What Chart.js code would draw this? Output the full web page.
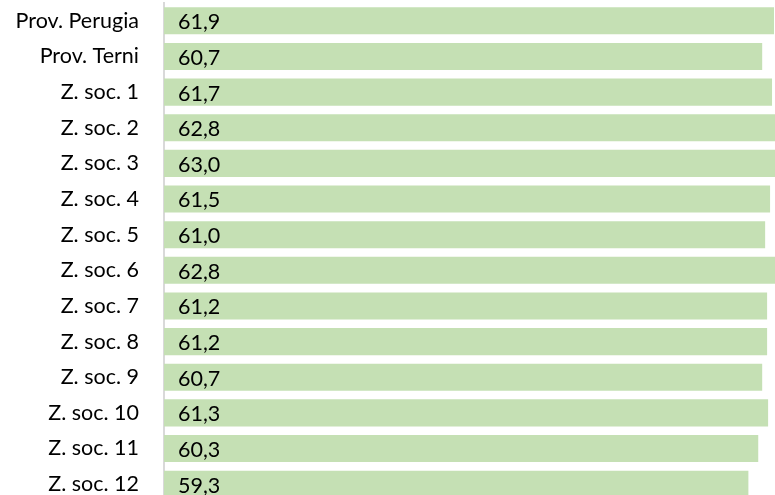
<!DOCTYPE html>
<html>
<head>
<meta charset="utf-8">
<script src="https://cdn.jsdelivr.net/npm/chart.js@4"></script>
<style>
  html, body { margin: 0; padding: 0; background: #fff; overflow: hidden; }
  #wrap { position: relative; width: 775px; height: 502px; }
</style>
</head>
<body>
<div id="wrap"><canvas id="chart"></canvas></div>
<script>
// Categories and values
const zones = ['Prov. Perugia', 'Prov. Terni', 'Z. soc. 1', 'Z. soc. 2', 'Z. soc. 3', 'Z. soc. 4', 'Z. soc. 5',
  'Z. soc. 6', 'Z. soc. 7', 'Z. soc. 8', 'Z. soc. 9', 'Z. soc. 10', 'Z. soc. 11', 'Z. soc. 12'];
const values = [61.9, 60.7, 61.7, 62.8, 63.0, 61.5, 61.0, 62.8, 61.2, 61.2, 60.7, 61.3, 60.3, 59.3];

const FONT = 'Lato';
const FONT_SIZE = 21.5;

// Write the value inside each bar, near its base
const barValues = {
  id: 'barValues',
  afterDatasetsDraw(chart) {
    const ctx = chart.ctx;
    const meta = chart.getDatasetMeta(0);
    ctx.save();
    ctx.font = FONT_SIZE + 'px ' + FONT;
    ctx.fillStyle = '#000';
    ctx.textAlign = 'left';
    ctx.textBaseline = 'middle';
    meta.data.forEach((bar, i) => {
      const txt = values[i].toFixed(1).replace('.', ',');
      ctx.fillText(txt, bar.base + 14, bar.y + 1.5);
    });
    ctx.restore();
  }
};

new Chart(document.getElementById('chart'), {
  type: 'bar',
  data: {
    labels: zones,
    datasets: [{
      data: values,
      backgroundColor: '#c5e0b4',
      borderWidth: 0,
      categoryPercentage: 1,
      barPercentage: 0.76
    }]
  },
  options: {
    indexAxis: 'y',
    responsive: true,
    maintainAspectRatio: false,
    animation: false,
    layout: { padding: { top: 3, right: 0, bottom: 0, left: 0 } },
    plugins: {
      legend: { display: false },
      tooltip: { enabled: false }
    },
    scales: {
      x: {
        display: false,
        min: 0,
        max: 62.0
      },
      y: {
        afterFit(scale) {
          // fixed axis width, no extra room above/below the bars
          scale.width = 164;
          scale.paddingTop = 0;
          scale.paddingBottom = 0;
        },
        grid: { display: false, drawTicks: false },
        border: { display: true, color: '#d9d9d9', width: 2 },
        ticks: {
          padding: 25,
          color: '#000',
          font: { family: FONT, size: FONT_SIZE }
        }
      }
    }
  },
  plugins: [barValues]
});
</script>
</body>
</html>
